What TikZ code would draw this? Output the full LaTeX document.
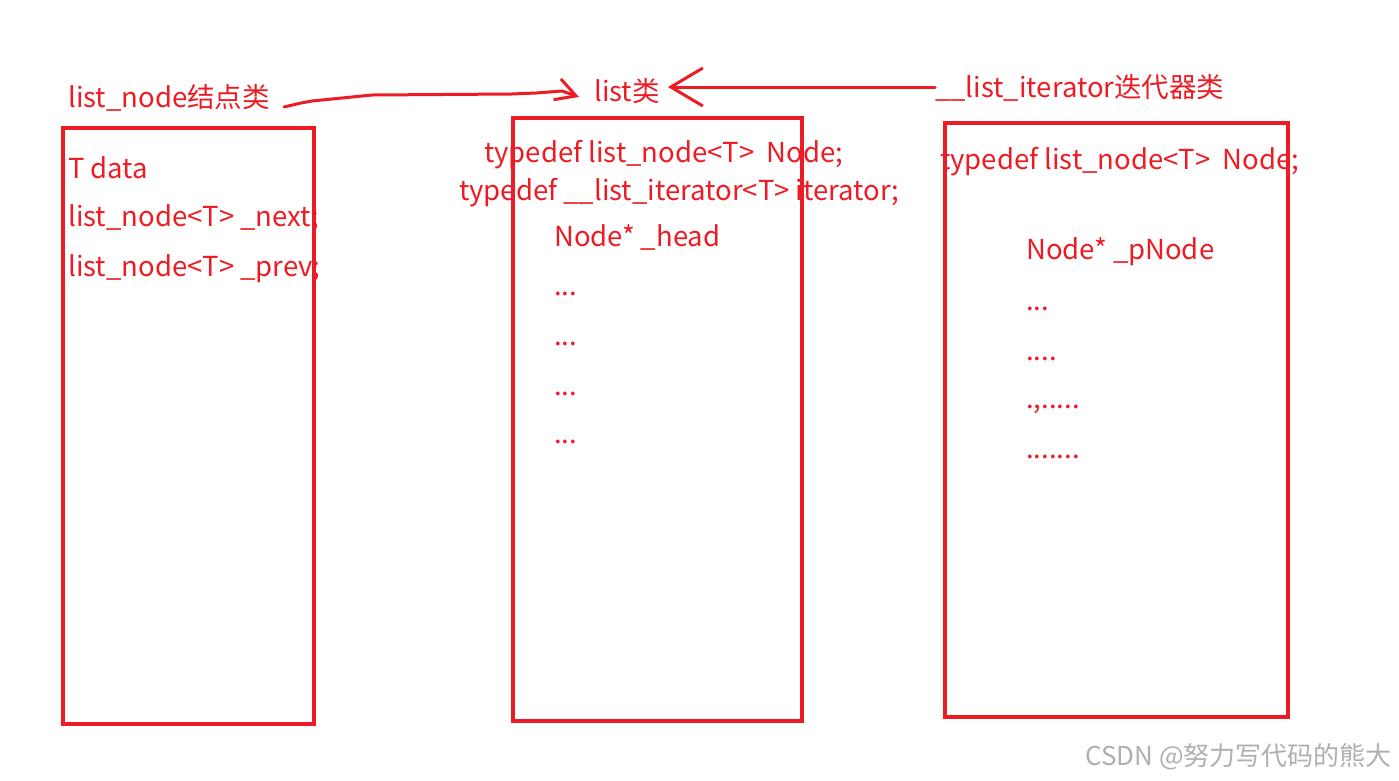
\documentclass[tikz,border=0pt]{standalone}
\usepackage{fontspec}
\setmainfont{Noto Sans CJK SC}
\usetikzlibrary{arrows.meta, calc}
\definecolor{PenRed}{RGB}{237, 28, 36}
\definecolor{MarkGray}{RGB}{175,175,175}

\begin{document}
\begin{tikzpicture}[x=1pt, y=-1pt,
    txt/.style={PenRed, anchor=west, inner sep=0pt, font=\fontsize{27.5}{32}\selectfont},
    box/.style={PenRed, line width=4pt},
    pen/.style={PenRed, line width=3pt, line cap=round, line join=round}]
        \useasboundingbox (0,0) rectangle (1399,780);

        % three class boxes
        \draw[box] (63,128) rectangle (314,724);
        \draw[box] (513,118) rectangle (802,721);
        \draw[box] (945,123) rectangle (1288,717);

        % class titles
        \node[txt] (nodelbl) at (68, 98) {list\_node结点类};
        \node[txt] (listlbl) at (594, 91) {list类};
        \node[txt] (iterlbl) at (935, 88) {\_\_list\_iterator迭代器类};

        % list_node members
        \node[txt] (ndata) at (68, 168) {T data};
        \node[txt] (nnext) at (68, 218) {list\_node<T> \_next;};
        \node[txt] (nprev) at (68, 269) {list\_node<T> \_prev;};

        % list members
        \node[txt] (ltype) at (484, 155) {typedef list\_node<T>\ \ Node;};
        \node[txt] (liter) at (459, 193) {typedef \_\_list\_iterator<T> iterator;};
        \node[txt] (lhead) at (554, 237) {Node* \_head};
        \foreach \y in {294, 344, 394, 442}
          \node[txt] at (554, \y) {...};

        % iterator members
        \node[txt] (itype) at (940, 162) {typedef list\_node<T>\ \ Node;};
        \node[txt] (ipnode) at (1026, 252) {Node* \_pNode};
        \node[txt] at (1026, 309) {...};
        \node[txt] at (1026, 359) {....};
        \node[txt] at (1026, 409) {.,.....};
        \node[txt] at (1026, 457) {.......};

        % hand drawn arrows
        \draw[pen, -{Straight Barb[length=20pt, width=22pt]}]
          (nodelbl.east) ++(14,9) -- ++(17,-4) -- ++(11,-2) -- ++(60,-6)
          -- ++(140,-1) -- ++(24,-1) -- ++(26,-2) -- ($(listlbl.west)+(-15,6)$);
        \draw[pen, -{Straight Barb[length=32pt, width=38pt]}]
          (iterlbl.west) ++(0,-1) -- ($(listlbl.east)+(8,-4)$);

        \node[MarkGray, anchor=east, inner sep=0pt, font=\fontsize{26}{30}\selectfont]
          (mark) at (1392, 757) {CSDN @努力写代码的熊大};
      \end{tikzpicture}
\end{document}
